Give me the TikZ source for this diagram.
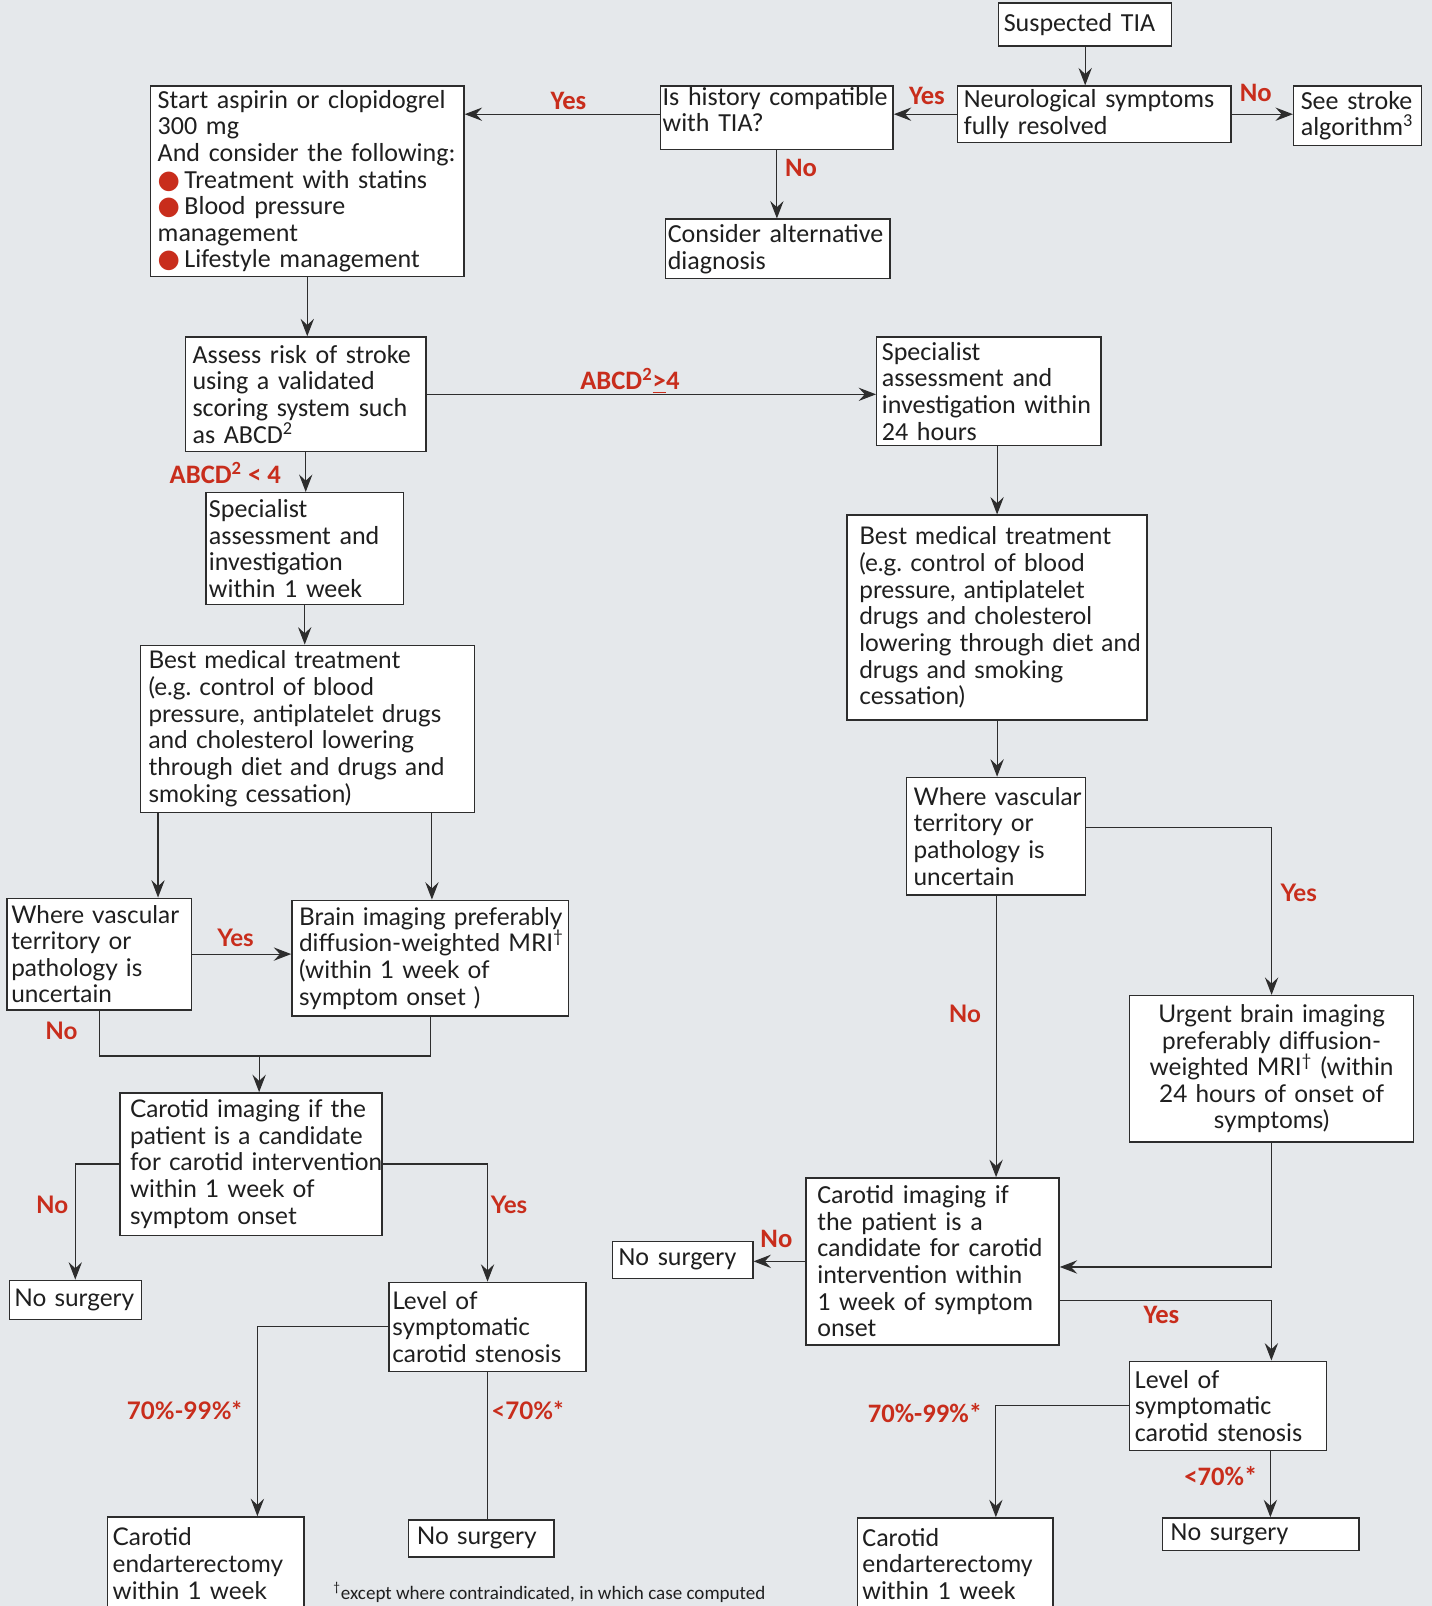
\documentclass[tikz,border=0pt]{standalone}
\usepackage{fontspec}
\usetikzlibrary{arrows.meta,calc}
\newfontfamily\carl{Carlito}
\newfontfamily\lato{Lato}
\newfontfamily\djv{DejaVu Sans}
\definecolor{bgc}{RGB}{229,232,235}
\definecolor{tred}{RGB}{200,45,28}
\definecolor{lnc}{RGB}{45,45,45}
\tikzset{
 box/.style={draw=lnc,line width=0.7pt,fill=white,inner xsep=-5pt,inner ysep=0pt,align=left,text=black!88},
 cnd/.style={font=\carl\fontsize{12.7}{13}\selectfont},
 wd/.style={font=\lato\fontsize{11.9}{13}\selectfont},
 lab/.style={text=tred,inner sep=0pt},
 lc/.style={lab,font=\carl\bfseries\fontsize{13}{13}\selectfont},
 lw/.style={lab,font=\lato\bfseries\fontsize{11.8}{13}\selectfont},
 conn/.style={draw=lnc,line width=0.55pt},
 arr/.style={conn,-{Stealth[length=8.5pt,width=6.5pt,inset=3pt]}},
}
\newcommand\bx[8]{%
 \pgfmathsetmacro\bxw{(#4-#2)*0.5}%
 \pgfmathsetmacro\bxtw{(#4-#2)*0.5+10}%
 \pgfmathsetmacro\bxh{(#5-#3)*0.5}%
 \pgfmathsetmacro\bxcx{(#2+#4)/2}%
 \pgfmathsetmacro\bxcy{(#3+#5)/2}%
 \pgfmathsetmacro\bxls{#6+5}%
 \node[box,#7,minimum width=\bxw pt,minimum height=\bxh pt,text width=\bxtw pt] (#1) at (\bxcx,\bxcy) {\hyphenpenalty=10000\exhyphenpenalty=10000\leftskip=\bxls pt\relax #8\par};}
\newcommand\rb{{\djv\fontsize{12.5}{13}\selectfont\color{tred}●}\,}
\begin{document}
\begin{tikzpicture}[x=0.5pt,y=-0.5pt]
\useasboundingbox (0,0) rectangle (1398,1568);
\fill[bgc] (0,0) rectangle (1398,1568);
% boxes
\bx{sus}{975}{3}{1144}{45}{2.5}{cnd}{Suspected TIA}
\bx{neuro}{935}{84}{1202}{139}{3}{cnd}{Neurological symptoms\\fully resolved}
\bx{stroke}{1263}{84}{1388}{142}{3.5}{cnd}{See stroke\\algorithm\textsuperscript{3}}
\bx{hist}{645}{84}{872}{146}{1}{cnd}{Is history compatible\\with TIA?\par\vspace{8pt}}
\bx{alt}{650}{214}{869}{272}{1}{cnd}{Consider alternative\\diagnosis}
\bx{asp}{147}{84}{453}{270}{3.5}{cnd}{Start aspirin or clopidogrel\\300 mg\\And consider the following:\\\rb Treatment with statins\\\rb Blood pressure\\management\\\rb Lifestyle management}
\bx{assess}{181}{329}{416}{441}{3.5}{cnd}{Assess risk of stroke\\using a validated\\scoring system such\\as ABCD\textsuperscript{2}}
\bx{spec24}{856}{329}{1075}{435}{2.5}{cnd}{Specialist\\assessment and\\investigation within\\24 hours}
\bx{spec1w}{201}{481}{394}{590}{1.5}{cnd}{Specialist\\assessment and\\investigation\\within 1 week}
\bx{bmtR}{827}{503}{1120}{703}{6}{wd}{Best medical treatment\\(e.g.\ control of blood\\pressure, antiplatelet\\drugs and cholesterol\\lowering through diet and\\drugs and smoking\\cessation)}
\bx{bmtL}{137}{630}{463}{793}{4}{wd}{Best medical treatment\\(e.g.\ control of blood\\pressure, antiplatelet drugs\\and cholesterol lowering\\through diet and drugs and\\smoking cessation)}
\bx{wvL}{7}{877}{187}{986}{2}{wd}{Where vascular\\territory or\\pathology is\\uncertain}
\bx{brainL}{285}{879}{555}{992}{3.5}{wd}{Brain imaging preferably\\diffusion-weighted MRI\textsuperscript{†}\\(within 1 week of\\symptom onset )}
\bx{carL}{117}{1067}{373}{1206}{5}{wd}{Carotid imaging if the\\patient is a candidate\\for carotid intervention\\within 1 week of\\symptom onset}
\bx{nsL}{9}{1250}{138}{1288}{2.5}{wd}{No surgery}
\bx{lvlL}{380}{1252}{572}{1339}{1.5}{wd}{Level of\\symptomatic\\carotid stenosis}
\bx{ceL}{105}{1481}{297}{1572}{2.5}{wd}{Carotid\\endarterectomy\\within 1 week}
\bx{nsM}{399}{1484}{541}{1520}{4}{wd}{No surgery}
\bx{wvR}{885}{759}{1060}{874}{3.5}{wd}{Where vascular\\territory or\\pathology is\\uncertain}
\node[box,wd,inner xsep=0pt,align=center,minimum width=138.5pt,minimum height=71.5pt,text width=138.5pt] (urg) at (1241.5,1043.5) {Urgent brain imaging\\preferably diffusion-\\weighted MRI\textsuperscript{†} (within\\24 hours of onset of\\symptoms)};
\bx{carR}{787}{1150}{1034}{1313}{5.5}{cnd}{Carotid imaging if\\the patient is a\\candidate for carotid\\intervention within\\1 week of symptom\\onset}
\bx{nsR2}{598}{1212}{735}{1248}{3}{cnd}{No surgery}
\bx{lvlR}{1103}{1329}{1295}{1416}{2.5}{cnd}{Level of\\symptomatic\\carotid stenosis}
\bx{ceR}{837}{1482}{1028}{1572}{2.5}{cnd}{Carotid\\endarterectomy\\within 1 week}
\bx{nsR}{1135}{1482}{1327}{1514}{4}{cnd}{No surgery}
\node[font=\carl\fontsize{9.3}{10}\selectfont,anchor=west,inner sep=0pt,text=black!88] (foot) at (325,1555) {\textsuperscript{†}except where contraindicated, in which case computed};
% helper coordinates
\coordinate (bL1) at ([xshift=9pt]bmtL.south west);
\coordinate (bL2) at ([xshift=-21pt]bmtL.south east);
\coordinate (jL) at (253,1031);
\coordinate (ceLin) at ([xshift=73.5pt]ceL.north west);
\coordinate (wvRo) at ([yshift=-25pt]wvR.north east);
\coordinate (carRin) at ([yshift=-2.75pt]carR.east);
\coordinate (carRo) at ([yshift=-19.25pt]carR.east);
\coordinate (lvlRin) at ([xshift=69.5pt]lvlR.north west);
\coordinate (ceRin) at ([xshift=68pt]ceR.north west);
\coordinate (lvlRb) at ([xshift=69pt]lvlR.south west);
% connectors
\draw[arr] (sus.south) -- (sus.south |- neuro.north);
\draw[arr] (neuro.west) -- (neuro.west -| hist.east);
\draw[arr] (neuro.east) -- (neuro.east -| stroke.west);
\draw[arr] (hist.west |- neuro.west) -- (asp.east |- neuro.west);
\draw[arr] (hist.south) -- (hist.south |- alt.north);
\draw[arr] (asp.south) -- (asp.south |- assess.north);
\draw[arr] (assess.east) -- (assess.east -| spec24.west);
\draw[arr] (assess.south) -- (assess.south |- spec1w.north);
\draw[arr] (spec1w.south) -- (spec1w.south |- bmtL.north);
\draw[arr] (bL1) -- (bL1 |- wvL.north);
\draw[arr] (bL2) -- (bL2 |- brainL.north);
\draw[arr] (wvL.east) -- (wvL.east -| brainL.west);
\draw[conn] (wvL.south) |- (jL) -| (brainL.south);
\draw[arr] (jL) -- (jL |- carL.north);
\draw[arr] (carL.west) -| (nsL.north);
\draw[arr] (carL.east) -| (lvlL.north);
\draw[arr] (lvlL.west) -| (ceLin);
\draw[conn] (lvlL.south) -- (lvlL.south |- nsM.north);
\draw[arr] (bmtR.north |- spec24.south) -- (bmtR.north);
\draw[arr] (bmtR.south) -- (bmtR.south |- wvR.north);
\draw[arr] (wvRo) -| (urg.north);
\draw[arr] (wvR.south) -- (wvR.south |- carR.north);
\draw[arr] (urg.south) |- (carRin);
\draw[arr] (carR.west) -- (carR.west -| nsR2.east);
\draw[arr] (carRo) -| (lvlRin);
\draw[arr] (lvlR.west) -| (ceRin);
\draw[arr] (lvlRb) -- (lvlRb |- nsR.north);
% labels
\node[lc] (l1) at (905,94) {Yes};
\node[lc] (l2) at (1226,91) {No};
\node[lc] (l3) at (555,99) {Yes};
\node[lc] (l4) at (782,164) {No};
\node[lc] (l5) at (615,372) {ABCD\textsuperscript{2}\underline{>}4};
\node[lc] (l6) at (220,462) {ABCD\textsuperscript{2} < 4};
\node[lw] (l7) at (230,916) {Yes};
\node[lw] (l8) at (60,1006) {No};
\node[lw] (l9) at (51,1176) {No};
\node[lw] (l10) at (497,1176) {Yes};
\node[lw] (l11) at (180,1377) {70\%-99\%*};
\node[lw] (l12) at (515,1377) {<70\%*};
\node[lw] (l13) at (1268,872) {Yes};
\node[lw] (l14) at (942,990) {No};
\node[lc] (l15) at (758,1210) {No};
\node[lc] (l16) at (1134,1284) {Yes};
\node[lc] (l17) at (903,1380) {70\%-99\%*};
\node[lc] (l18) at (1192,1441) {<70\%*};
\end{tikzpicture}
\end{document}
